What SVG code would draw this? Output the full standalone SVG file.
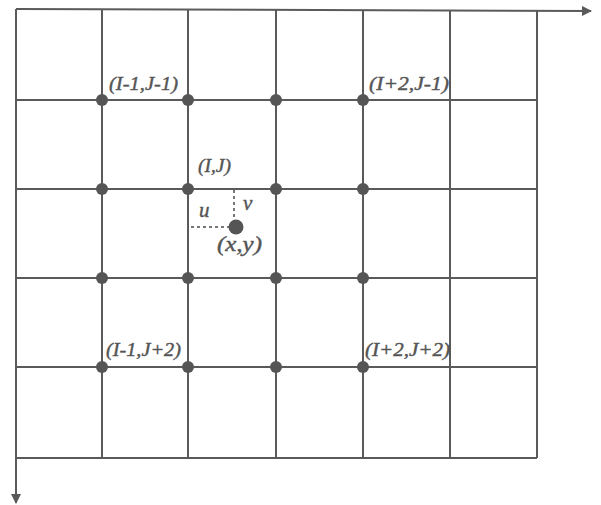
<svg xmlns="http://www.w3.org/2000/svg" width="601" height="505" viewBox="0 0 601 505">
<style>
.g{stroke:#5a5a5a;stroke-width:2;fill:none}
.d{stroke:#4a4a4a;stroke-width:1.5;stroke-dasharray:3,3;fill:none}
.n{fill:#555}
.t{font-family:'Liberation Serif','Times New Roman',serif;font-style:italic;font-size:18px;fill:#555;stroke:#555;stroke-width:0.4}
.b{font-size:21px}
</style>
<defs>
<marker id="ah" viewBox="0 0 10 10" refX="9" refY="5" markerWidth="6" markerHeight="5" orient="auto" markerUnits="strokeWidth">
<path d="M0,0 L10,5 L0,10 z" fill="#5a5a5a"/>
</marker>
</defs>
<rect width="601" height="505" fill="#fff"/>
<g id="connectors">
<line class="g" x1="16" y1="9" x2="591" y2="11" marker-end="url(#ah)"/>
<line class="g" x1="16" y1="9" x2="16" y2="503" marker-end="url(#ah)"/>
<path class="g" d="M102,10V458 M188,10V458 M276,10V458 M363,10V458 M450,10V458 M537,10V458"/>
<path class="g" d="M16,100H537 M16,189H537 M16,278H537 M16,367H537 M16,458H537"/>
<line class="d" x1="234" y1="190" x2="234" y2="222"/>
<line class="d" x1="191" y1="227" x2="230" y2="227"/>
</g>
<g id="nodes">
<circle class="n" cx="102" cy="100" r="6"/><circle class="n" cx="188" cy="100" r="6"/><circle class="n" cx="276" cy="100" r="6"/><circle class="n" cx="363" cy="100" r="6"/>
<circle class="n" cx="102" cy="189" r="6"/><circle class="n" cx="188" cy="189" r="6"/><circle class="n" cx="276" cy="189" r="6"/><circle class="n" cx="363" cy="189" r="6"/>
<circle class="n" cx="102" cy="278" r="6"/><circle class="n" cx="188" cy="278" r="6"/><circle class="n" cx="276" cy="278" r="6"/><circle class="n" cx="363" cy="278" r="6"/>
<circle class="n" cx="102" cy="367" r="6"/><circle class="n" cx="188" cy="367" r="6"/><circle class="n" cx="276" cy="367" r="6"/><circle class="n" cx="363" cy="367" r="6"/>
<circle class="n" cx="236" cy="227" r="7.5"/>
</g>
<g id="labels">
<text class="t" x="109" y="90" textLength="69" lengthAdjust="spacingAndGlyphs">(I-1,J-1)</text>
<text class="t" x="369" y="90" textLength="80" lengthAdjust="spacingAndGlyphs">(I+2,J-1)</text>
<text class="t" x="198" y="172" textLength="33" lengthAdjust="spacingAndGlyphs">(I,J)</text>
<text class="t b" x="199" y="217">u</text>
<text class="t b" x="243" y="210">v</text>
<text class="t b" x="217" y="251" textLength="45" lengthAdjust="spacingAndGlyphs">(x,y)</text>
<text class="t" x="106" y="356" textLength="75" lengthAdjust="spacingAndGlyphs">(I-1,J+2)</text>
<text class="t" x="365" y="356" textLength="85" lengthAdjust="spacingAndGlyphs">(I+2,J+2)</text>
</g>
</svg>
